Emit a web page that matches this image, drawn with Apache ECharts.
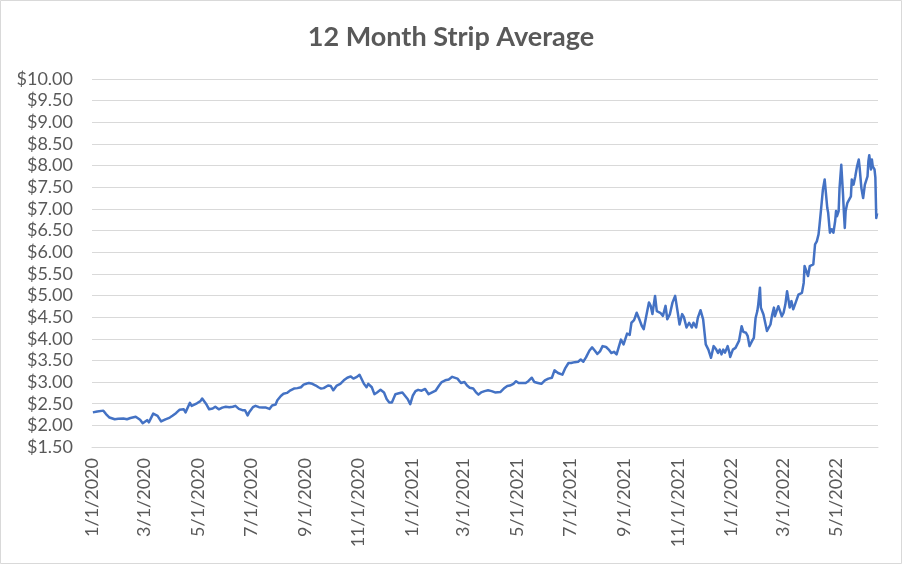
<!DOCTYPE html>
<html>
<head>
<meta charset="utf-8">
<script src="https://cdn.jsdelivr.net/npm/echarts@6/dist/echarts.min.js"></script>
<style>
html,body{margin:0;padding:0;background:#fff;}
#chart{width:902px;height:564px;}
</style>
</head>
<body>
<div id="chart"></div>
<script>
const titleText = "12 Month Strip Average";

const dates = [
"2020-01-02","2020-01-07","2020-01-14","2020-01-17","2020-01-21","2020-01-27","2020-01-31","2020-02-06","2020-02-10","2020-02-14",
"2020-02-20","2020-02-25","2020-02-28","2020-03-04","2020-03-06","2020-03-11","2020-03-16","2020-03-20","2020-03-25","2020-03-30",
"2020-04-02","2020-04-06","2020-04-10","2020-04-15","2020-04-17","2020-04-22","2020-04-24","2020-04-30","2020-05-04","2020-05-06",
"2020-05-11","2020-05-14","2020-05-18","2020-05-21","2020-05-25","2020-05-27","2020-05-29","2020-06-02","2020-06-06","2020-06-10",
"2020-06-13","2020-06-17","2020-06-21","2020-06-24","2020-06-27","2020-06-29","2020-07-03","2020-07-06","2020-07-10","2020-07-14",
"2020-07-18","2020-07-22","2020-07-25","2020-07-29","2020-07-31","2020-08-04","2020-08-07","2020-08-11","2020-08-15","2020-08-19",
"2020-08-23","2020-08-27","2020-08-30","2020-09-02","2020-09-05","2020-09-09","2020-09-13","2020-09-16","2020-09-19","2020-09-22",
"2020-09-24","2020-09-27","2020-09-30","2020-10-03","2020-10-07","2020-10-11","2020-10-15","2020-10-19","2020-10-23","2020-10-26",
"2020-10-30","2020-11-02","2020-11-04","2020-11-07","2020-11-10","2020-11-12","2020-11-16","2020-11-19","2020-11-22","2020-11-26",
"2020-11-30","2020-12-03","2020-12-06","2020-12-09","2020-12-13","2020-12-17","2020-12-21","2020-12-23","2020-12-27","2020-12-30",
"2021-01-02","2021-01-05","2021-01-08","2021-01-12","2021-01-16","2021-01-20","2021-01-24","2021-01-28","2021-02-01","2021-02-04",
"2021-02-08","2021-02-12","2021-02-16","2021-02-18","2021-02-22","2021-02-26","2021-03-02","2021-03-05","2021-03-08","2021-03-10",
"2021-03-12","2021-03-15","2021-03-18","2021-03-21","2021-03-25","2021-03-29","2021-04-02","2021-04-06","2021-04-08","2021-04-12",
"2021-04-16","2021-04-20","2021-04-23","2021-04-27","2021-04-30","2021-05-03","2021-05-07","2021-05-11","2021-05-14","2021-05-18",
"2021-05-21","2021-05-25","2021-05-29","2021-06-02","2021-06-06","2021-06-10","2021-06-13","2021-06-17","2021-06-22","2021-06-25",
"2021-06-29","2021-07-02","2021-07-06","2021-07-10","2021-07-13","2021-07-16","2021-07-19","2021-07-23","2021-07-26","2021-07-29",
"2021-07-30","2021-08-01","2021-08-04","2021-08-07","2021-08-11","2021-08-14","2021-08-17","2021-08-20","2021-08-23","2021-08-25",
"2021-08-28","2021-08-31","2021-09-04","2021-09-07","2021-09-09","2021-09-12","2021-09-15","2021-09-18","2021-09-21","2021-09-23",
"2021-09-26","2021-09-29","2021-10-01","2021-10-03","2021-10-06","2021-10-08","2021-10-12","2021-10-15","2021-10-18","2021-10-20",
"2021-10-23","2021-10-26","2021-10-29","2021-11-01","2021-11-03","2021-11-06","2021-11-08","2021-11-11","2021-11-14","2021-11-17",
"2021-11-19","2021-11-22","2021-11-24","2021-11-27","2021-11-30","2021-12-03","2021-12-06","2021-12-09","2021-12-12","2021-12-15",
"2021-12-17","2021-12-19","2021-12-21","2021-12-23","2021-12-25","2021-12-28","2021-12-30","2021-12-31","2022-01-03","2022-01-06",
"2022-01-08","2022-01-10","2022-01-13","2022-01-15","2022-01-18","2022-01-20","2022-01-22","2022-01-25","2022-01-27","2022-01-29",
"2022-01-31","2022-02-01","2022-02-03","2022-02-04","2022-02-07","2022-02-09","2022-02-11","2022-02-13","2022-02-15","2022-02-17",
"2022-02-19","2022-02-20","2022-02-22","2022-02-24","2022-02-26","2022-02-28","2022-03-02","2022-03-04","2022-03-06","2022-03-07",
"2022-03-09","2022-03-11","2022-03-13","2022-03-15","2022-03-17","2022-03-19","2022-03-21","2022-03-23","2022-03-25","2022-03-26",
"2022-03-28","2022-03-30","2022-04-01","2022-04-03","2022-04-05","2022-04-07","2022-04-09","2022-04-11","2022-04-12","2022-04-14",
"2022-04-16","2022-04-18","2022-04-19","2022-04-21","2022-04-22","2022-04-24","2022-04-26","2022-04-28","2022-04-30","2022-05-01",
"2022-05-02","2022-05-04","2022-05-05","2022-05-07","2022-05-09","2022-05-10","2022-05-11","2022-05-12","2022-05-14","2022-05-16",
"2022-05-18","2022-05-19","2022-05-21","2022-05-23","2022-05-25","2022-05-27","2022-05-28","2022-05-30","2022-06-01","2022-06-03",
"2022-06-04","2022-06-06","2022-06-07","2022-06-08","2022-06-10","2022-06-11","2022-06-12","2022-06-14","2022-06-15","2022-06-16",
"2022-06-17"
];

const values = [
2.30,2.32,2.34,2.26,2.18,2.14,2.15,2.16,2.14,2.17,
2.20,2.13,2.05,2.12,2.07,2.27,2.22,2.09,2.14,2.18,
2.22,2.28,2.36,2.37,2.30,2.52,2.45,2.51,2.56,2.62,
2.48,2.37,2.39,2.43,2.37,2.41,2.41,2.43,2.42,2.43,
2.45,2.38,2.35,2.35,2.23,2.31,2.42,2.45,2.42,2.41,
2.41,2.38,2.46,2.48,2.58,2.68,2.73,2.75,2.81,2.85,
2.86,2.88,2.94,2.96,2.98,2.96,2.92,2.88,2.85,2.86,
2.83,2.92,2.91,2.81,2.92,2.96,3.04,3.10,3.13,3.08,
3.12,3.17,3.13,2.96,2.88,2.96,2.88,2.72,2.76,2.82,
2.76,2.61,2.53,2.53,2.72,2.74,2.76,2.80,2.61,2.49,
2.69,2.79,2.82,2.80,2.84,2.72,2.76,2.80,2.92,3.00,
3.04,3.06,3.12,3.16,3.08,2.98,3.00,2.92,2.87,2.89,
2.85,2.77,2.71,2.76,2.79,2.81,2.79,2.76,2.72,2.77,
2.85,2.91,2.92,2.96,3.02,2.98,2.98,2.98,3.02,3.10,
3.00,2.98,2.96,3.04,3.08,3.10,3.27,3.21,3.17,3.31,
3.44,3.44,3.46,3.47,3.52,3.47,3.57,3.73,3.80,3.73,
3.71,3.65,3.71,3.83,3.81,3.75,3.67,3.70,3.64,3.67,
3.98,3.87,4.12,4.09,4.37,4.43,4.60,4.45,4.29,4.22,
4.53,4.84,4.76,4.57,4.99,4.64,4.60,4.53,4.76,4.45,
4.57,4.84,4.99,4.60,4.33,4.57,4.50,4.26,4.37,4.26,
4.37,4.26,4.49,4.66,4.45,3.87,3.75,3.56,3.83,3.75,
3.67,3.75,3.64,3.75,3.68,3.83,3.68,3.58,3.75,3.79,
3.87,3.95,4.29,4.16,4.14,4.06,3.83,3.95,4.02,4.48,
4.64,4.79,5.18,4.72,4.56,4.37,4.18,4.14,4.33,4.56,
4.72,4.52,4.64,4.75,4.64,4.52,4.60,4.79,5.10,4.98,
4.72,4.87,4.68,4.79,4.75,5.02,4.98,5.06,5.29,5.68,
5.64,5.45,5.68,5.72,5.72,6.18,6.25,6.41,6.60,7.02,
7.45,7.68,7.72,7.02,6.91,6.45,6.53,6.45,6.72,6.95,
6.83,6.95,7.48,8.02,7.33,6.91,6.56,6.95,7.14,7.18,
7.29,7.68,7.56,7.75,7.98,8.14,7.95,7.48,7.25,7.56,
7.60,7.75,8.10,8.24,7.91,8.14,7.98,7.91,7.72,6.79,
6.90
];

const tickDates = [
"2020-01-01","2020-03-01","2020-05-01","2020-07-01","2020-09-01","2020-11-01",
"2021-01-01","2021-03-01","2021-05-01","2021-07-01","2021-09-01","2021-11-01",
"2022-01-01","2022-03-01","2022-05-01"
];

const axisStart = "2020-01-01";
const axisEnd = "2022-06-18";
const yMin = 1.5, yMax = 10, yStep = 0.5;

function toTime(s){
  const p = s.split("-").map(Number);
  return new Date(p[0], p[1]-1, p[2]).getTime();
}

const seriesData = dates.map((d,i)=>[toTime(d), values[i]]);
const tickTimes = tickDates.map(toTime);

const chart = echarts.init(document.getElementById('chart'), null, {renderer:'canvas'});
const FONT = 'Lato, "Open Sans", sans-serif';
chart.setOption({
  animation:false,
  backgroundColor:'#ffffff',
  title:{
    text:titleText,
    left:'center',
    top:19,
    textStyle:{fontFamily:FONT, fontSize:27, fontWeight:'bold', color:'#595959'}
  },
  graphic:[{
    type:'rect',
    shape:{x:0.5,y:0.5,width:901,height:563},
    style:{fill:'none', stroke:'#d9d9d9', lineWidth:1},
    silent:true
  }],
  grid:{left:92, right:24, top:79, bottom:117},
  xAxis:{
    type:'value',
    min:toTime(axisStart),
    max:toTime(axisEnd),
    axisLine:{show:true, lineStyle:{color:'#d9d9d9', width:1}},
    axisTick:{show:false},
    splitLine:{show:false},
    axisLabel:{
      customValues:tickTimes,
      rotate:90,
      margin:11,
      fontFamily:FONT,
      fontSize:18,
      color:'#595959',
      hideOverlap:false,
      showMinLabel:true,
      formatter:function(v){
        const d = new Date(v);
        return (d.getMonth()+1)+'/'+d.getDate()+'/'+d.getFullYear();
      }
    }
  },
  yAxis:{
    type:'value',
    min:yMin, max:yMax, interval:yStep,
    axisLine:{show:false},
    axisTick:{show:false},
    splitLine:{show:true, lineStyle:{color:'#d9d9d9', width:1}},
    axisLabel:{
      margin:19,
      fontFamily:FONT,
      fontSize:18,
      color:'#595959',
      formatter:function(v){ return '$' + v.toFixed(2); }
    }
  },
  series:[{
    type:'line',
    data:seriesData,
    showSymbol:false,
    symbol:'none',
    lineStyle:{color:'#4472C4', width:2.5, join:'round'},
    itemStyle:{color:'#4472C4'}
  }]
});
</script>
</body>
</html>
